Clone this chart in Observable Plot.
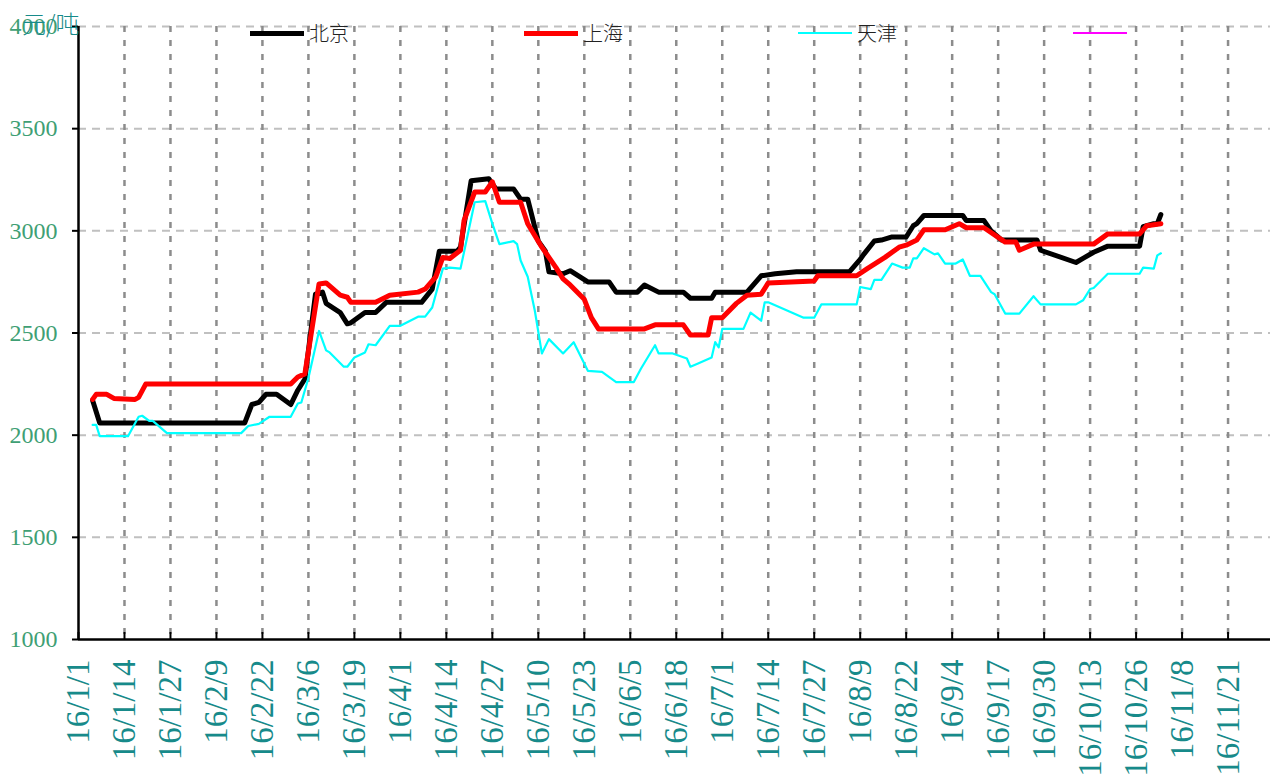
<!DOCTYPE html>
<html><head><meta charset="utf-8">
<script src="https://cdn.jsdelivr.net/npm/d3@7"></script>
<script src="https://cdn.jsdelivr.net/npm/@observablehq/plot@0.6"></script>
<style>
body{margin:0;background:#fff;}
#wrap{position:relative;width:1270px;height:781px;overflow:hidden;}
#wrap svg text{font-family:"Liberation Serif",serif;}
.sw{position:absolute;}
.lt{position:absolute;font-family:"Noto Sans CJK SC",sans-serif;font-weight:300;font-size:20px;color:#222;line-height:20px;top:23px;}
#unit{position:absolute;left:22px;top:10px;font-family:"Noto Sans CJK SC",sans-serif;font-weight:300;font-size:24px;color:#178a8a;line-height:26px;}
</style></head><body><div id="wrap"></div>
<script>
const seriesNames = ["北京","上海","天津"];
const seriesColors = ["#000000","#ff0000","#00ffff"];

const bjDates = ["2016-01-05","2016-01-07","2016-02-17","2016-02-19","2016-02-21","2016-02-23","2016-02-26","2016-03-01","2016-03-03","2016-03-05","2016-03-08","2016-03-10","2016-03-11","2016-03-15","2016-03-17","2016-03-18","2016-03-22","2016-03-25","2016-03-28","2016-04-07","2016-04-10","2016-04-12","2016-04-17","2016-04-18","2016-04-21","2016-04-26","2016-04-28","2016-05-03","2016-05-05","2016-05-07","2016-05-10","2016-05-12","2016-05-13","2016-05-17","2016-05-19","2016-05-24","2016-05-30","2016-06-01","2016-06-07","2016-06-09","2016-06-13","2016-06-20","2016-06-22","2016-06-28","2016-06-29","2016-07-08","2016-07-12","2016-07-16","2016-07-22","2016-08-06","2016-08-09","2016-08-10","2016-08-13","2016-08-15","2016-08-18","2016-08-22","2016-08-24","2016-08-25","2016-08-27","2016-09-07","2016-09-08","2016-09-13","2016-09-15","2016-09-18","2016-09-28","2016-09-29","2016-10-09","2016-10-11","2016-10-14","2016-10-18","2016-10-27","2016-10-28","2016-10-31","2016-11-01","2016-11-02"];
const bjValues = [2170,2060,2060,2150,2160,2200,2200,2150,2220,2275,2690,2700,2645,2600,2545,2550,2600,2600,2650,2650,2715,2900,2900,2920,3245,3255,3205,3205,3155,3155,2950,2900,2800,2790,2805,2750,2750,2700,2700,2735,2700,2700,2670,2670,2700,2700,2780,2790,2800,2800,2860,2885,2950,2955,2970,2970,3025,3035,3075,3075,3050,3050,3000,2955,2955,2905,2845,2865,2895,2925,2925,3020,3035,3035,3080];

const shDates = ["2016-01-05","2016-01-06","2016-01-09","2016-01-11","2016-01-17","2016-01-18","2016-01-20","2016-03-01","2016-03-03","2016-03-05","2016-03-09","2016-03-11","2016-03-15","2016-03-17","2016-03-18","2016-03-25","2016-03-29","2016-04-06","2016-04-08","2016-04-11","2016-04-13","2016-04-15","2016-04-18","2016-04-19","2016-04-22","2016-04-25","2016-04-27","2016-04-29","2016-05-05","2016-05-07","2016-05-11","2016-05-12","2016-05-13","2016-05-15","2016-05-17","2016-05-19","2016-05-23","2016-05-25","2016-05-27","2016-06-09","2016-06-12","2016-06-20","2016-06-22","2016-06-27","2016-06-28","2016-07-01","2016-07-05","2016-07-08","2016-07-12","2016-07-14","2016-07-27","2016-07-28","2016-08-08","2016-08-11","2016-08-16","2016-08-20","2016-08-22","2016-08-25","2016-08-27","2016-09-02","2016-09-06","2016-09-08","2016-09-13","2016-09-19","2016-09-22","2016-09-23","2016-09-27","2016-10-14","2016-10-18","2016-10-27","2016-10-29","2016-11-02"];
const shValues = [2175,2200,2200,2180,2175,2185,2250,2250,2285,2300,2740,2745,2685,2675,2650,2650,2685,2700,2715,2775,2870,2865,2905,3050,3190,3190,3240,3140,3140,3035,2920,2895,2870,2820,2765,2735,2665,2575,2520,2520,2540,2540,2490,2490,2575,2575,2645,2685,2690,2745,2755,2780,2780,2815,2870,2920,2930,2955,3005,3005,3035,3015,3015,2945,2945,2905,2935,2935,2985,2985,3025,3035];

const tjDates = ["2016-01-05","2016-01-06","2016-01-07","2016-01-15","2016-01-18","2016-01-19","2016-01-21","2016-01-22","2016-01-26","2016-02-16","2016-02-18","2016-02-21","2016-02-24","2016-03-01","2016-03-03","2016-03-04","2016-03-06","2016-03-09","2016-03-11","2016-03-12","2016-03-16","2016-03-17","2016-03-19","2016-03-22","2016-03-23","2016-03-25","2016-03-29","2016-04-01","2016-04-06","2016-04-08","2016-04-10","2016-04-13","2016-04-15","2016-04-18","2016-04-22","2016-04-25","2016-04-27","2016-04-29","2016-05-03","2016-05-04","2016-05-05","2016-05-07","2016-05-09","2016-05-11","2016-05-13","2016-05-17","2016-05-20","2016-05-24","2016-05-28","2016-06-01","2016-06-06","2016-06-08","2016-06-12","2016-06-13","2016-06-17","2016-06-21","2016-06-22","2016-06-24","2016-06-28","2016-06-29","2016-06-30","2016-07-01","2016-07-07","2016-07-09","2016-07-12","2016-07-13","2016-07-14","2016-07-24","2016-07-27","2016-07-29","2016-08-08","2016-08-09","2016-08-12","2016-08-13","2016-08-15","2016-08-18","2016-08-21","2016-08-23","2016-08-24","2016-08-25","2016-08-27","2016-08-30","2016-08-31","2016-09-02","2016-09-05","2016-09-07","2016-09-09","2016-09-12","2016-09-15","2016-09-16","2016-09-19","2016-09-23","2016-09-27","2016-09-29","2016-10-09","2016-10-11","2016-10-13","2016-10-14","2016-10-18","2016-10-27","2016-10-28","2016-10-31","2016-11-01","2016-11-02"];
const tjValues = [2050,2050,1995,1995,2090,2095,2070,2070,2010,2010,2045,2055,2090,2090,2155,2160,2280,2510,2415,2405,2335,2335,2380,2405,2445,2440,2535,2535,2580,2580,2625,2815,2820,2815,3140,3145,3035,2935,2950,2935,2855,2775,2610,2400,2470,2400,2455,2315,2310,2260,2260,2325,2440,2400,2400,2375,2335,2350,2380,2455,2430,2520,2520,2600,2560,2650,2650,2575,2575,2640,2640,2725,2715,2760,2760,2840,2820,2820,2865,2865,2915,2885,2890,2840,2840,2860,2780,2780,2700,2690,2595,2595,2680,2640,2640,2660,2715,2720,2790,2790,2820,2815,2880,2890];

const xTickDates = ["2016-01-01","2016-01-14","2016-01-27","2016-02-09","2016-02-22","2016-03-06","2016-03-19","2016-04-01","2016-04-14","2016-04-27","2016-05-10","2016-05-23","2016-06-05","2016-06-18","2016-07-01","2016-07-14","2016-07-27","2016-08-09","2016-08-22","2016-09-04","2016-09-17","2016-09-30","2016-10-13","2016-10-26","2016-11-08","2016-11-21"];
const xTickLabels = ["16/1/1","16/1/14","16/1/27","16/2/9","16/2/22","16/3/6","16/3/19","16/4/1","16/4/14","16/4/27","16/5/10","16/5/23","16/6/5","16/6/18","16/7/1","16/7/14","16/7/27","16/8/9","16/8/22","16/9/4","16/9/17","16/9/30","16/10/13","16/10/26","16/11/8","16/11/21"];
const yTicks = [1000,1500,2000,2500,3000,3500,4000];
const unitLabel = "元/吨";

const toRows = (dates, values, name) => dates.map((d, i) => ({date: new Date(d), value: values[i], name}));
const bj = toRows(bjDates, bjValues, seriesNames[0]);
const sh = toRows(shDates, shValues, seriesNames[1]);
const tj = toRows(tjDates, tjValues, seriesNames[2]);
const ticks = xTickDates.map(d => new Date(d));
const labelOf = new Map(ticks.map((d, i) => [+d, xTickLabels[i]]));
const xStart = new Date("2016-01-01");
const xEnd = new Date("2016-12-03");
const serif = "Liberation Serif";

const chart = Plot.plot({
  width: 1270, height: 781,
  marginLeft: 78, marginRight: 0, marginTop: 26, marginBottom: 142,
  style: {fontFamily: serif, background: "white", overflow: "visible"},
  x: {type: "utc", domain: [xStart, xEnd], label: null},
  y: {domain: [1000, 4000], label: null},
  marks: [
    Plot.ruleY(yTicks.slice(1), {stroke: "#c0c0c0", strokeWidth: 2, strokeDasharray: "8,6"}),
    Plot.ruleX(ticks.slice(1), {stroke: "#8c8c8c", strokeWidth: 2.5, strokeDasharray: "6,8"}),
    Plot.axisX({ticks, text: null, label: null, tickSize: -7, stroke: "black", strokeWidth: 2}),
    Plot.axisX({ticks, label: null, tickSize: 0, tickPadding: 20, tickRotate: -90, fontSize: 33, fontFamily: serif, color: "#178a8a",
      tickFormat: d => labelOf.get(+d)}),
    Plot.axisY({ticks: yTicks, text: null, label: null, tickSize: 6, stroke: "black", strokeWidth: 2}),
    Plot.axisY({ticks: yTicks, label: null, tickSize: 0, tickPadding: 21, fontSize: 24, fontFamily: serif, color: "#3f9f74", tickFormat: d => String(d)}),
    Plot.ruleY([1000], {stroke: "black", strokeWidth: 2.5}),
    Plot.ruleX([xStart], {stroke: "black", strokeWidth: 2.5}),
    Plot.line(bj, {x: "date", y: "value", stroke: seriesColors[0], strokeWidth: 5, strokeLinejoin: "round"}),
    Plot.line(sh, {x: "date", y: "value", stroke: seriesColors[1], strokeWidth: 5, strokeLinejoin: "round"}),
    Plot.line(tj, {x: "date", y: "value", stroke: seriesColors[2], strokeWidth: 2.2, strokeLinejoin: "round"})
  ]
});
const wrap = document.getElementById("wrap");
wrap.appendChild(chart);

// legend overlay
const legendItems = [
  {name: seriesNames[0], color: seriesColors[0], w: 5, left: 250},
  {name: seriesNames[1], color: seriesColors[1], w: 5, left: 524},
  {name: seriesNames[2], color: seriesColors[2], w: 2, left: 798},
  {name: "", color: "#ff00ff", w: 2.5, left: 1073}
];
for (const it of legendItems) {
  const s = document.createElement("div");
  s.className = "sw";
  s.style.cssText = `left:${it.left}px;top:${33 - it.w/2}px;width:54px;height:${it.w}px;background:${it.color};`;
  wrap.appendChild(s);
  if (it.name) {
    const t = document.createElement("div");
    t.className = "lt";
    t.style.left = (it.left + 59) + "px";
    t.textContent = it.name;
    wrap.appendChild(t);
  }
}
const u = document.createElement("div");
u.id = "unit"; u.textContent = unitLabel;
wrap.appendChild(u);
</script></body></html>
